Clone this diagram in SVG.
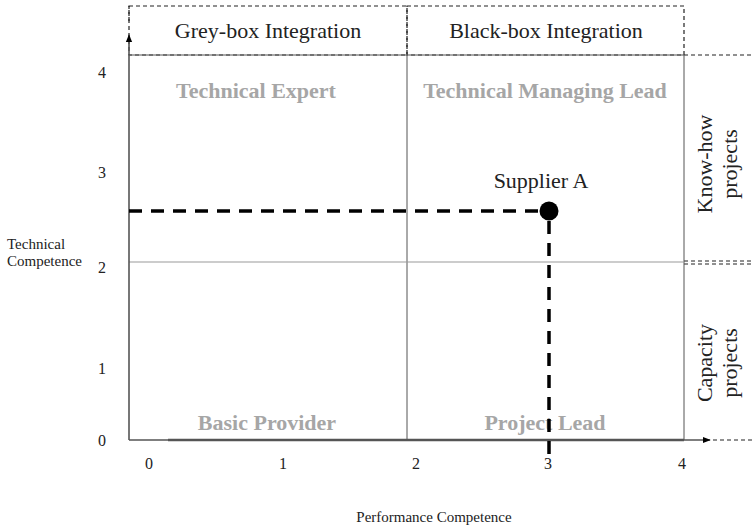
<svg xmlns="http://www.w3.org/2000/svg" width="754" height="530" viewBox="0 0 754 530">
  <defs>
    <marker id="arrow" viewBox="0 0 10 10" refX="9" refY="5" markerWidth="8" markerHeight="8" markerUnits="userSpaceOnUse" orient="auto">
      <path d="M0,1 L10,5 L0,9 z" fill="#000"/>
    </marker>
    <style>
      .frame { fill: none; stroke: #555; stroke-width: 1; }
      .dash { fill: none; stroke: #222; stroke-width: 1.2; stroke-dasharray: 4 3; }
      .axis { fill: none; stroke: #555; stroke-width: 1.6; }
      .guide { fill: none; stroke: #000; stroke-width: 3.5; stroke-dasharray: 13 9; }
      .head { font-family: "Liberation Serif", "Times New Roman", serif; font-size: 22px; fill: #222; }
      .quad { font-family: "Liberation Serif", "Times New Roman", serif; font-size: 22px; font-weight: bold; fill: #a6a6a6; }
      .tick { font-family: "Liberation Serif", "Times New Roman", serif; font-size: 16px; fill: #222; }
      .title { font-family: "Liberation Serif", "Times New Roman", serif; font-size: 15px; fill: #222; }
    </style>
  </defs>
  <rect width="754" height="530" fill="#fff"/>

  <!-- integration headers -->
  <g id="grey-box">
    <rect x="129" y="6" width="278" height="49" class="dash"/>
    <text x="268" y="38" text-anchor="middle" class="head">Grey-box Integration</text>
  </g>
  <g id="black-box">
    <rect x="407" y="6" width="277" height="49" class="dash"/>
    <text x="546" y="38" text-anchor="middle" class="head">Black-box Integration</text>
  </g>

  <!-- project bands on the right -->
  <g id="know-how">
    <line x1="684" y1="55" x2="754" y2="55" class="dash"/>
    <text transform="translate(712,164) rotate(-90)" text-anchor="middle" class="head">Know-how</text>
    <text transform="translate(737,164) rotate(-90)" text-anchor="middle" class="head">projects</text>
  </g>
  <g id="capacity">
    <line x1="684" y1="261" x2="754" y2="261" class="dash"/>
    <line x1="684" y1="264" x2="754" y2="264" class="dash"/>
    <text transform="translate(712,363) rotate(-90)" text-anchor="middle" class="head">Capacity</text>
    <text transform="translate(737,363) rotate(-90)" text-anchor="middle" class="head">projects</text>
  </g>

  <!-- quadrant grid -->
  <g id="grid">
    <line x1="129" y1="55" x2="684" y2="55" class="frame"/>
    <line x1="684" y1="55" x2="684" y2="440" class="frame"/>
    <line x1="407" y1="55" x2="407" y2="440" class="frame"/>
    <line x1="129" y1="262" x2="684" y2="262" stroke="#999" stroke-width="1"/>
  </g>

  <g id="technical-expert"><text x="256" y="98" text-anchor="middle" class="quad">Technical Expert</text></g>
  <g id="technical-managing-lead"><text x="545" y="98" text-anchor="middle" class="quad">Technical Managing Lead</text></g>
  <g id="basic-provider"><text x="267" y="430" text-anchor="middle" class="quad">Basic Provider</text></g>
  <g id="project-lead"><text x="545" y="430" text-anchor="middle" class="quad">Project Lead</text></g>

  <!-- axes -->
  <g id="axes">
    <line x1="129" y1="21" x2="129" y2="6" class="dash"/>
    <line x1="129" y1="440" x2="129" y2="35" class="axis" marker-end="url(#arrow)"/>
    <line x1="129" y1="440" x2="710" y2="440" class="axis" marker-end="url(#arrow)"/>
    <line x1="168" y1="440" x2="684" y2="440" stroke="#555" stroke-width="2.4"/>
    <line x1="713" y1="440" x2="754" y2="440" class="dash"/>
  </g>

  <g id="y-ticks" class="tick">
    <text x="102" y="78" text-anchor="middle">4</text>
    <text x="102" y="178" text-anchor="middle">3</text>
    <text x="102" y="273" text-anchor="middle">2</text>
    <text x="102" y="374" text-anchor="middle">1</text>
    <text x="102" y="446" text-anchor="middle">0</text>
  </g>
  <g id="x-ticks" class="tick">
    <text x="149" y="469" text-anchor="middle">0</text>
    <text x="283" y="469" text-anchor="middle">1</text>
    <text x="416" y="469" text-anchor="middle">2</text>
    <text x="548" y="469" text-anchor="middle">3</text>
    <text x="682" y="469" text-anchor="middle">4</text>
  </g>

  <g id="y-title" class="title">
    <text x="7" y="249">Technical</text>
    <text x="7" y="266">Competence</text>
  </g>
  <g id="x-title"><text x="434" y="522" text-anchor="middle" class="title">Performance Competence</text></g>

  <!-- supplier position guides -->
  <g id="connectors">
    <line x1="129" y1="211" x2="549" y2="211" class="guide"/>
    <line x1="549" y1="454" x2="549" y2="211" class="guide"/>
  </g>

  <g id="supplier-a">
    <circle cx="549" cy="211" r="9.5" fill="#000"/>
    <text x="541" y="188" text-anchor="middle" class="head" font-size="19">Supplier A</text>
  </g>
</svg>
